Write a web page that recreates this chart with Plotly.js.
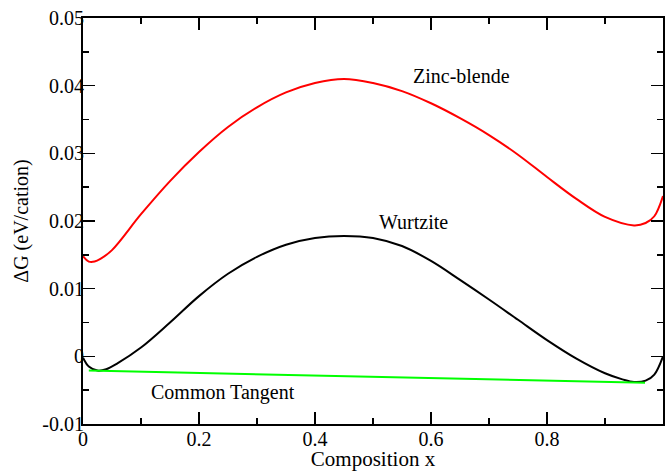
<!DOCTYPE html>
<html>
<head>
<meta charset="utf-8">
<script src="https://cdn.plot.ly/plotly-3.0.1.min.js"></script>
<style>html,body{margin:0;padding:0;background:#fff;}#chart{width:666px;height:471px;}</style>
</head>
<body>
<div id="chart"></div>
<script>
// Zinc-blende free energy of mixing
const xZincBlende = [0, 0.01, 0.02, 0.03, 0.05, 0.10, 0.15, 0.20, 0.25, 0.30, 0.35, 0.40, 0.45, 0.50, 0.55, 0.60, 0.65, 0.70, 0.75, 0.80, 0.85, 0.90, 0.95, 0.97, 0.985, 1.0];
const yZincBlende = [0.0148, 0.0140, 0.0140, 0.0144, 0.0157, 0.0210, 0.0259, 0.0302, 0.0339, 0.0368, 0.0390, 0.0404, 0.0410, 0.0404, 0.0392, 0.0374, 0.0352, 0.0327, 0.0298, 0.0265, 0.0233, 0.0206, 0.01935, 0.0197, 0.0207, 0.0237];

// Wurtzite free energy of mixing
const xWurtzite = [0, 0.01, 0.025, 0.04, 0.06, 0.10, 0.15, 0.20, 0.25, 0.30, 0.35, 0.40, 0.45, 0.50, 0.55, 0.60, 0.65, 0.70, 0.75, 0.80, 0.85, 0.90, 0.93, 0.95, 0.97, 0.985, 1.0];
const yWurtzite = [-0.0002, -0.0015, -0.0021, -0.0019, -0.0010, 0.0013, 0.0050, 0.0089, 0.0122, 0.0147, 0.0165, 0.0175, 0.0178, 0.0175, 0.0163, 0.0141, 0.0113, 0.0084, 0.0054, 0.0024, -0.0003, -0.0025, -0.0034, -0.0038, -0.0036, -0.0027, 0.0000];

// Common tangent
const xTangent = [0.010, 0.969];
const yTangent = [-0.0021, -0.0039];

// Tick labels
const xTickVals = [0, 0.2, 0.4, 0.6, 0.8, 1];
const xTickText = ['0', '0.2', '0.4', '0.6', '0.8', '1'];
const yTickVals = [-0.01, 0, 0.01, 0.02, 0.03, 0.04, 0.05];
const yTickText = ['-0.01', '0', '0.01', '0.02', '0.03', '0.04', '0.05'];

const FONT = 'Liberation Serif, Times New Roman, Times, DejaVu Serif, serif';

const traces = [
  {x: xZincBlende, y: yZincBlende, type: 'scatter', mode: 'lines', name: 'Zinc-blende',
   line: {color: '#ff0000', width: 2, shape: 'spline', smoothing: 1}},
  {x: xWurtzite, y: yWurtzite, type: 'scatter', mode: 'lines', name: 'Wurtzite',
   line: {color: '#000000', width: 2, shape: 'spline', smoothing: 1}},
  {x: xTangent, y: yTangent, type: 'scatter', mode: 'lines', name: 'Common Tangent',
   line: {color: '#00ff00', width: 2}}
];

const axisCommon = {
  showline: true, linecolor: '#000', linewidth: 2, mirror: 'ticks',
  ticks: 'inside', ticklen: 12, tickwidth: 1.5, tickcolor: '#000',
  showgrid: false, zeroline: false,
  tickfont: {family: FONT, size: 20, color: '#000'}
};

const layout = {
  width: 666, height: 471,
  margin: {l: 83, r: 3, t: 18, b: 47},
  paper_bgcolor: '#fff', plot_bgcolor: '#fff',
  showlegend: false,
  font: {family: FONT, color: '#000'},
  xaxis: Object.assign({}, axisCommon, {
    range: [0, 1], tickmode: 'array', tickvals: xTickVals, ticktext: xTickText,
    ticklabelstandoff: -4,
    minor: {tick0: 0, dtick: 0.1, ticks: 'inside', ticklen: 6, tickwidth: 1.5, tickcolor: '#000', showgrid: false},
    title: {text: 'Composition x', font: {family: FONT, size: 21, color: '#000'}, standoff: 0}
  }),
  yaxis: Object.assign({}, axisCommon, {
    range: [-0.01, 0.05], tickmode: 'array', tickvals: yTickVals, ticktext: yTickText,
    ticklabelstandoff: -7,
    minor: {tick0: 0, dtick: 0.005, ticks: 'inside', ticklen: 6, tickwidth: 1.5, tickcolor: '#000', showgrid: false},
    title: {text: 'ΔG (eV/cation)', font: {family: FONT, size: 20, color: '#000'}, standoff: 8}
  }),
  annotations: [
    {x: 0.652, y: 0.0415, xref: 'x', yref: 'y', text: 'Zinc-blende', showarrow: false,
     font: {family: FONT, size: 20, color: '#000'}},
    {x: 0.569, y: 0.0198, xref: 'x', yref: 'y', text: 'Wurtzite', showarrow: false,
     font: {family: FONT, size: 20, color: '#000'}},
    {x: 0.241, y: -0.0053, xref: 'x', yref: 'y', text: 'Common Tangent', showarrow: false,
     font: {family: FONT, size: 20, color: '#000'}}
  ]
};

Plotly.newPlot('chart', traces, layout, {staticPlot: true, displayModeBar: false});
</script>
</body>
</html>
